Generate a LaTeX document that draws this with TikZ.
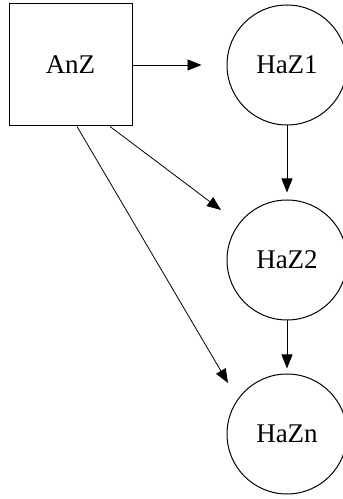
\documentclass[tikz,border=0pt]{standalone}
\usepackage{fontspec}
\setmainfont{Liberation Serif}
\usetikzlibrary{arrows.meta}
\begin{document}
\begin{tikzpicture}[x=1pt,y=1pt,
  box/.style={draw, line width=1pt, minimum width=123pt, minimum height=122pt, inner sep=0pt, font=\fontsize{27}{30}\selectfont},
  circ/.style={draw, circle, line width=1pt, minimum size=120pt, inner sep=0pt, font=\fontsize{27}{30}\selectfont},
  arr/.style={line width=0.8pt, -{Triangle[length=14pt,width=11pt]}}]
\useasboundingbox (0,0) rectangle (343,499);
\node[box] (AnZ) at (70.5,434) {AnZ};
\node[circ] (HaZ1) at (287,434) {HaZ1};
\node[circ] (HaZ2) at (287,239) {HaZ2};
\node[circ] (HaZn) at (287,65) {HaZn};
\draw[arr, shorten >=25pt] (AnZ.east) -- (HaZ1.west);
\draw[arr, shorten >=7pt] (HaZ1.south) -- (HaZ2.north);
\draw[arr, shorten >=5pt] (HaZ2.south) -- (HaZn.north);
\draw[arr] ([xshift=39.5pt]AnZ.south) -- ([shift={(-66pt,50pt)}]HaZ2.center);
\draw[arr] ([xshift=6.5pt]AnZ.south) -- ([shift={(-59pt,51pt)}]HaZn.center);
\end{tikzpicture}
\end{document}
